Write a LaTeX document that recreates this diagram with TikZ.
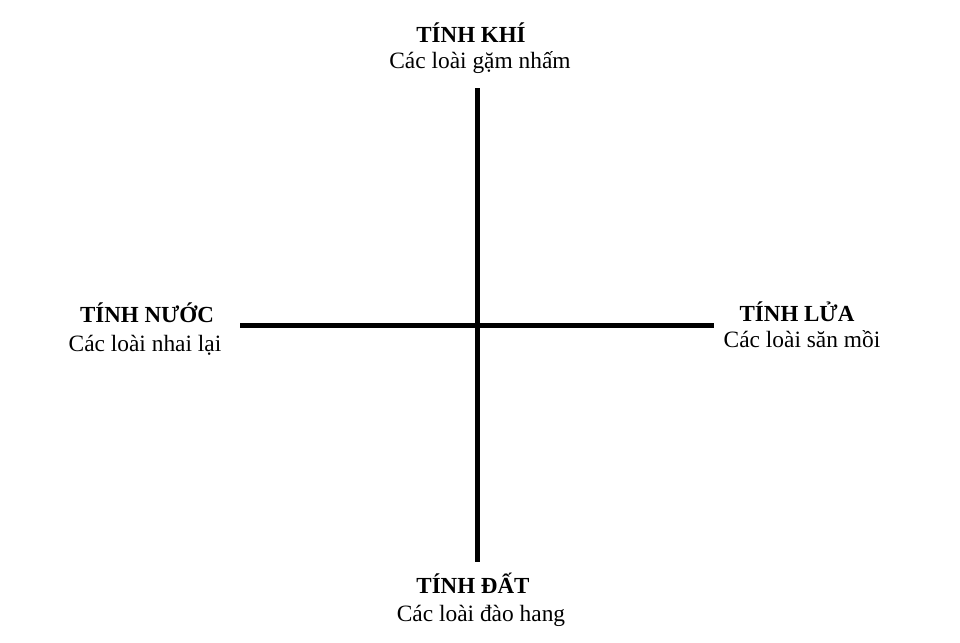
\documentclass[tikz,border=0pt]{standalone}
\usepackage{fontspec}
\setmainfont{Liberation Serif}
\usepackage{tikz}
\usetikzlibrary{positioning,calc}

\tikzset{
    axisline/.style={line width=5pt},
    heading/.style={anchor=base, inner sep=0pt, font=\fontsize{23}{27}\selectfont\bfseries},
    desc/.style={anchor=base, inner sep=0pt, font=\fontsize{23.4}{28}\selectfont}
}

\begin{document}
\begin{tikzpicture}[x=1pt,y=-1pt]
    \useasboundingbox (0,0) rectangle (960,642);

    % ends of the cross
    \coordinate (top) at (477,88);
    \coordinate (bottom) at (477,562);
    \coordinate (left) at (240,325);
    \coordinate (right) at (714,325);
    \draw[axisline] (top) -- (bottom);
    \draw[axisline] (left) -- (right);

    % Top
    \node[heading] (khi) at (471,42) {TÍNH KHÍ};
    \node[desc] (gamnham) at (480,68) {Các loài gặm nhấm};

    % Left
    \node[heading] (nuoc) at (147,322) {TÍNH NƯỚC};
    \node[desc] (nhailai) at (145,351) {Các loài nhai lại};

    % Right
    \node[heading] (lua) at (797,321) {TÍNH LỬA};
    \node[desc] (sanmoi) at (802,347) {Các loài săn mồi};

    % Bottom
    \node[heading] (dat) at (473,593) {TÍNH ĐẤT};
    \node[desc] (daohang) at (481,621) {Các loài đào hang};
\end{tikzpicture}
\end{document}
